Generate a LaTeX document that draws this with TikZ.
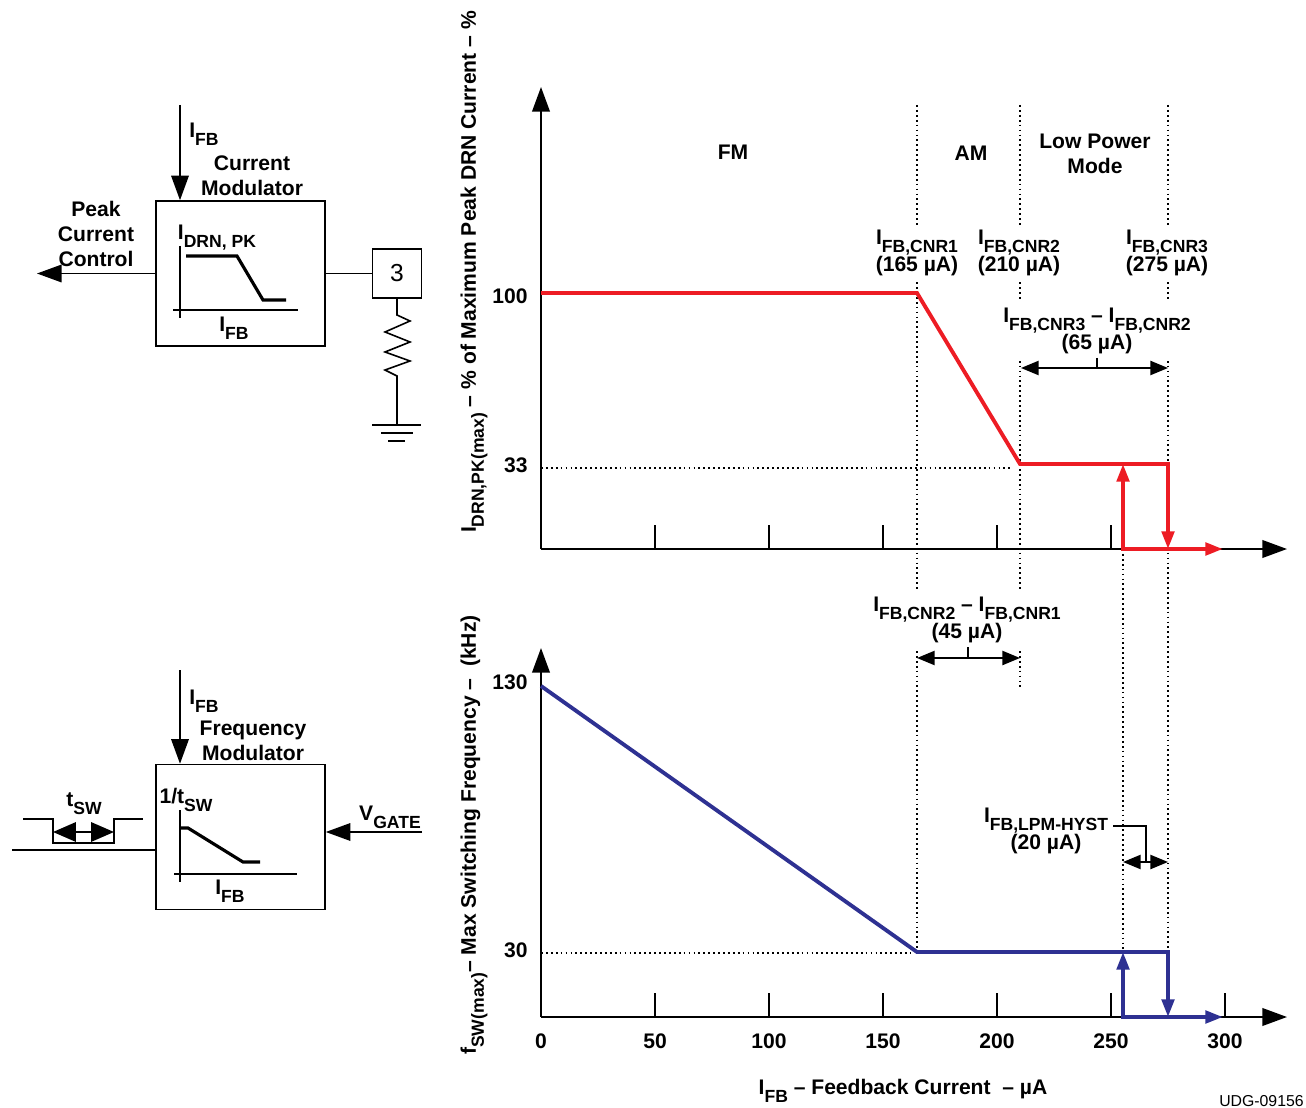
\documentclass[tikz,border=0pt]{standalone}
\usepackage{fontspec}
\setmainfont{Liberation Sans}
\usetikzlibrary{arrows.meta,positioning,calc}

\definecolor{drnred}{RGB}{237,28,36}
\definecolor{fswblue}{RGB}{46,49,146}
\newcommand{\lowsub}[1]{\raisebox{-4.5pt}{\fontsize{10}{10}\selectfont #1}}

\begin{document}
\begin{tikzpicture}[x=0.02cm,y=-0.02cm,
    txt/.style={font=\bfseries\fontsize{12}{14}\selectfont, align=center, inner sep=0pt},
    axisline/.style={line width=1.1pt, -{Triangle[length=14pt,width=10pt]}},
    tickmark/.style={line width=0.6pt},
    guide/.style={line width=0.6pt, dash pattern=on 1pt off 1.8pt},
    blockbox/.style={draw, line width=0.9pt, minimum width=3.38cm, minimum height=2.9cm, inner sep=0pt},
    sig/.style={line width=0.9pt, -{Triangle[length=14pt,width=10pt]}},
    wire/.style={line width=0.9pt},
    thinwire/.style={line width=0.7pt},
    dimarrow/.style={line width=1.1pt, {Triangle[length=10pt,width=8pt]}-{Triangle[length=10pt,width=8pt]}},
    tswarrow/.style={line width=1.1pt, {Triangle[length=13pt,width=11pt]}-{Triangle[length=13pt,width=11pt]}},
    limcurve/.style={line width=2.2pt, line join=miter, -{Triangle[length=10pt,width=7pt]}},
    hystcurve/.style={line width=2.2pt, line join=miter, {Triangle[length=10pt,width=7pt]}-{Triangle[length=10pt,width=7pt]}},
]
\useasboundingbox (0,0) rectangle (1306,1108);

% guide lines
\draw[guide] (917,105) -- (917,953);
\draw[guide] (1020,105) -- (1020,690);
\draw[guide] (1168,105) -- (1168,1017);
\draw[guide] (1123,549) -- (1123,1017);
\draw[guide] (541,468) -- (1012,468);
\draw[guide] (541,953) -- (910,953);

% peak current plot
\coordinate (top0) at (541,549);
\draw[axisline] (top0) -- (1287,549);
\draw[axisline] (top0) -- (541,87);
\foreach \v in {50,100,...,250} \draw[tickmark] (541+2.28*\v,549) -- ++(0,-24);
\coordinate (cnr1) at (917,293);
\coordinate (cnr2) at (1020,464);
\coordinate (cnr3) at (1168,464);
\draw[limcurve, drnred] (541,293) -- (cnr1) -- (cnr2) -- (cnr3) -- (1168,549);
\draw[hystcurve, drnred] (1123,464) -- (1123,549) -- (1223,549);
\node[txt, anchor=east] at (528,296) {100};
\node[txt, anchor=east] at (528,465) {33};

\node[txt] at (733,152) {FM};
\node[txt] at (971,153) {AM};
\node[txt] at (1095,154) {Low Power\\Mode};
\node[txt, fill=white, inner ysep=2pt] at (917,253) {I\lowsub{FB,CNR1}\\(165 µA)};
\node[txt, fill=white, inner ysep=2pt] at (1019,253) {I\lowsub{FB,CNR2}\\(210 µA)};
\node[txt, fill=white, inner ysep=2pt] at (1167,253) {I\lowsub{FB,CNR3}\\(275 µA)};
\node[txt, fill=white, inner ysep=4pt] (d65) at (1097,331) {I\lowsub{FB,CNR3} -- I\lowsub{FB,CNR2}\\(65 µA)};
\draw[dimarrow] (1021,368) -- (1168,368);
\draw[thinwire] (1097,358) -- (1097,368);

% switching frequency plot
\coordinate (bot0) at (541,1017);
\draw[axisline] (bot0) -- (1287,1017);
\draw[axisline] (bot0) -- (541,648);
\foreach \v in {50,100,...,300} \draw[tickmark] (541+2.28*\v,1017) -- ++(0,-24);
\coordinate (fknee) at (917,952);
\coordinate (fstep) at (1168,952);
\draw[limcurve, fswblue] (541,686) -- (fknee) -- (fstep) -- (1168,1017);
\draw[hystcurve, fswblue] (1123,952) -- (1123,1017) -- (1223,1017);
\node[txt, anchor=east] at (528,682) {130};
\node[txt, anchor=east] at (528,950) {30};
\foreach \v in {0,50,...,300} \node[txt] at (541+2.28*\v,1041) {\v};

\node[txt, fill=white, inner ysep=4pt] (d45) at (967,620) {I\lowsub{FB,CNR2} -- I\lowsub{FB,CNR1}\\(45 µA)};
\draw[dimarrow] (917,658) -- (1020,658);
\draw[thinwire] (968,647) -- (968,658);

\node[txt] (hyst) at (1046,831) {I\lowsub{FB,LPM-HYST}\\(20 µA)};
\draw[thinwire] (1113,826) -- (1146,826) -- (1146,862);
\draw[dimarrow] (1123,862) -- (1168,862);

% axis titles
\node[txt, rotate=90] at (474,272) {I\lowsub{DRN,PK(max)} -- \% of Maximum Peak DRN Current -- \%};
\node[txt, rotate=90] at (474,835) {f\lowsub{SW(max)}-- Max Switching Frequency --\ \ (kHz)};
\node[txt] at (903,1091) {I\lowsub{FB} -- Feedback Current\ \ -- µA};
\node[font=\fontsize{9}{10}\selectfont, anchor=east, inner sep=0pt] at (1304,1101) {UDG-09156};

% current modulator block
\node[blockbox] (cmod) at (240.5,273.5) {};
\coordinate (cin) at (180,105);
\draw[sig] (cin) -- (cin |- cmod.north);
\coordinate (pcc) at (37,273.5);
\draw[sig] (cmod.west) -- (pcc);
\node[draw, wire, minimum size=0.98cm, inner sep=0pt, font=\fontsize{14}{14}\selectfont] (pin3) at (397,273.5) {3};
\draw[wire] (cmod.east) -- (pin3.west);
\draw[wire] (pin3.south) -- (397,315) -- (410,321) -- (385,332) -- (410,342) -- (385,352) -- (410,361) -- (385,370) -- (397,376) -- (397,425);
\draw[wire] (372,425) -- (421,425) (381,433) -- (413,433) (388,441) -- (405,441);
\node[txt] at (204,134) {I\lowsub{FB}};
\node[txt] at (252,176) {Current\\Modulator};
\node[txt] at (96,234) {Peak\\Current\\Control};
\draw[thinwire] (180,246) -- (180,318);
\draw[thinwire] (173,310) -- (298,310);
\draw[line width=1.8pt] (186,256) -- (237,256) -- (263,300) -- (286,300);
\node[txt] at (217,238) {I\lowsub{DRN, PK}};
\node[txt] at (234,328) {I\lowsub{FB}};

% frequency modulator block
\node[blockbox] (fmod) at (240.5,837) {};
\coordinate (fin) at (180,670);
\draw[sig] (fin) -- (fin |- fmod.north);
\coordinate (gateout) at (12,850);
\draw[wire] (gateout) -- (gateout -| fmod.west);
\draw[wire] (23,819) -- (53,819) -- (53,843) -- (114,843) -- (114,819) -- (143,819);
\draw[tswarrow] (53,832) -- (114,832);
\node[txt] at (84,804) {t\lowsub{SW}};
\coordinate (vg) at (422,832);
\draw[sig] (vg) -- (vg -| fmod.east);
\node[txt] at (390,817) {V\lowsub{GATE}};
\node[txt] at (204,701) {I\lowsub{FB}};
\node[txt] at (253,741) {Frequency\\Modulator};
\node[txt] at (186,800) {1/t\lowsub{SW}};
\draw[thinwire] (180,810) -- (180,882);
\draw[thinwire] (174,874) -- (297,874);
\draw[line width=1.8pt] (181,828) -- (188,828) -- (243,862) -- (260,862);
\node[txt] at (230,891) {I\lowsub{FB}};
\end{tikzpicture}
\end{document}
